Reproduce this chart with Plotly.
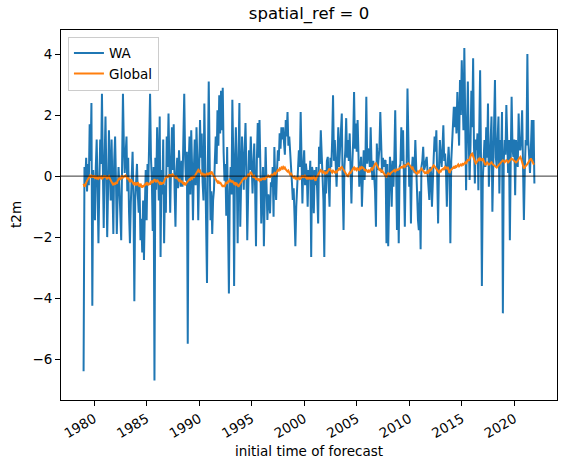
import pandas as pd
import plotly.graph_objects as go

# Monthly anomalies, Jan 1979 .. Dec 2021 (one row of 12 per year)
wa_values = [
    -6.4, 0.3, -0.2, 0.6, -0.5, 0.4, -0.3, 1.7, 0.5, 2.4, -4.25, 0.2,      # 1979
    -0.6, -1.45, 0.3, 1.2, -0.4, -2.2, -0.3, 1.2, 0.4, 2.7, 0.3, -1.7,     # 1980
    0.5, 1.95, 0.2, -2.0, -0.5, 1.5, 0.3, -0.8, 1.2, 0.1, -1.9, 0.5,       # 1981
    1.3, -0.2, -1.9, -0.6, 0.3, -0.4, -1.2, -2.1, 0.4, 2.7, 1.0, 0.1,      # 1982
    0.7, 1.3, -0.5, 0.6, -1.2, -2.2, -0.9, -0.25, 0.8, -0.6, -4.1, -0.8,   # 1983
    -0.1, 0.4, -0.6, -1.2, -0.3, -2.1, -1.4, -2.5, -0.8, -2.75, -1.0, 0.2, # 1984
    -1.45, 0.4, -0.3, 1.2, 2.7, 0.6, -0.1, -1.8, 0.3, -6.7, 0.6, -0.45,   # 1985
    1.6, 0.4, -0.8, 1.95, -2.65, 0.2, -0.6, 1.2, -2.2, -0.3, -1.2, 1.3,   # 1986
    0.3, 2.05, 0.5, -1.2, 0.4, 1.6, 0.2, 1.7, -0.5, -1.66, 0.1, 0.6,      # 1987
    -0.4, 0.85, 0.2, -0.35, 0.5, -0.35, 1.2, 2.7, 0.6, -0.15, 0.8, -5.5,  # 1988
    0.4, 1.3, -0.6, 1.5, 0.3, -1.45, 0.2, 1.2, -0.3, 1.6, 0.5, -1.45,     # 1989
    0.2, 1.84, 0.6, 1.4, -0.2, -0.8, 2.38, 0.3, -1.2, -3.5, 0.4, 3.1,     # 1990
    0.6, -1.45, -0.5, -1.9, -0.8, -0.45, 0.5, 1.3, 0.4, 2.16, 1.0, 2.65,  # 1991
    1.4, 2.8, 1.5, 2.9, 0.8, -0.15, 0.4, -1.3, 0.95, -1.3, -3.85, -0.5,   # 1992
    0.3, -0.6, 2.5, 0.7, -3.6, 0.4, 1.6, 0.2, -2.2, 0.6, 2.4, -1.66,      # 1993
    0.2, 1.3, 0.5, -0.45, 0.8, 1.74, 0.3, -2.1, -0.6, 0.85, 0.2, 1.3,     # 1994
    0.4, -0.57, 0.3, 1.07, -0.4, -2.3, 0.5, 1.74, 0.6, 1.84, 0.3, -1.55,  # 1995
    -0.5, 0.3, -2.3, 0.1, 0.95, -0.3, -1.44, -0.6, -0.78, -1.22, -0.2, -0.35,  # 1996
    0.3, -1.33, 0.95, -0.2, -0.78, 0.2, 0.85, 0.5, 1.4, 0.9, 1.6, 1.2,    # 1997
    1.6, 1.07, 0.7, 1.84, 1.3, 2.1, 1.0, 1.3, 0.6, 0.3, -0.2, -0.78,      # 1998
    -0.4, -1.33, -2.3, -1.0, -0.35, 0.2, 0.85, 0.3, 2.1, 0.6, -0.9, 0.3,  # 1999
    0.85, -0.3, 0.41, 0.1, -1.0, 0.2, -0.13, 0.5, -2.65, 0.3, 0.1, -1.22, # 2000
    0.2, -0.3, 0.3, -0.6, -1.55, 0.96, 0.4, 1.5, 0.6, 0.3, -0.8, -2.65,   # 2001
    0.2, -0.57, 0.5, 0.63, -0.4, -1.0, 0.6, 0.3, 1.2, 2.65, 0.5, 1.18,    # 2002
    0.4, -0.35, 0.5, 1.6, 0.3, 0.85, 1.2, 2.05, -0.4, -1.77, 0.3, 0.85,   # 2003
    1.9, 0.6, 1.18, 0.5, 1.4, 0.2, -0.9, 0.4, 1.18, 2.76, 0.9, 1.72,      # 2004
    0.8, 1.84, 0.6, -0.35, 0.2, 0.63, -1.0, 0.3, 0.85, -0.13, 0.6, 2.6,   # 2005
    0.41, 0.9, 0.85, 0.3, 1.6, 0.4, -0.13, 0.5, 0.1, -0.5, -1.66, 1.07,   # 2006
    0.2, 0.74, 0.9, 2.1, 0.4, 0.1, 0.6, 0.3, 0.5, 0.52, -2.2, 0.4,        # 2007
    -2.3, 0.1, 0.63, 0.2, -1.0, 0.5, -0.35, 0.6, 2.16, 0.3, -1.77, 0.2,   # 2008
    -2.2, 0.3, 0.4, 1.6, 0.5, 1.5, 0.2, -1.66, 0.4, 0.3, 2.87, 0.5,       # 2009
    -0.35, 0.3, -1.55, 0.2, 0.63, 0.3, 0.1, 1.18, 0.2, -0.9, -1.44, -1.77,  # 2010
    -0.5, -2.4, 0.3, 0.5, 0.96, 0.2, 0.3, 0.5, 0.63, 0.1, -0.3, -0.78,    # 2011
    0.3, 0.1, -1.0, 0.3, 0.6, 1.3, 0.8, 1.5, 0.4, -1.55, 0.3, 1.18,       # 2012
    0.6, 0.3, 0.9, 1.67, 0.5, 0.74, 0.2, -1.0, 0.4, 0.96, 0.3, -2.2,      # 2013
    0.5, 1.18, 1.5, 2.27, 1.6, 2.27, 1.4, 2.76, 1.84, 1.0, 3.15, 2.0,     # 2014
    3.8, 2.8, 1.5, 4.2, 1.7, -0.46, 1.5, 3.1, 1.2, -0.13, 1.0, 2.8,       # 2015
    1.6, 3.86, 1.0, -0.24, 1.2, 0.85, 1.4, -0.46, 1.5, 3.47, 0.5, -3.6,   # 2016
    -0.13, 0.8, 1.18, 0.3, 1.6, 0.6, 2.38, -0.35, 0.6, 0.85, 1.95, -1.17, # 2017
    0.4, 0.85, 3.15, 0.6, 0.3, 1.2, 1.95, -0.57, 1.18, 0.5, 2.1, -4.5,    # 2018
    0.5, 1.18, 0.7, 2.33, 0.6, 0.1, 1.18, -2.1, 0.6, 2.6, 0.9, 0.63,      # 2019
    1.2, -0.63, 1.18, 0.5, 0.3, 2.05, 0.9, 0.85, 1.3, 2.16, 0.7, -1.44,   # 2020
    0.2, 1.18, 1.0, 4.0, 1.2, 0.74, 0.1, 0.9, 1.84, 0.5, 1.84, -0.24,     # 2021
]

global_values = [
    -0.25, -0.35, -0.3, -0.2, -0.15, -0.1, -0.05, 0.0, -0.05, 0.02, 0.0, -0.05,   # 1979
    0.02, -0.05, -0.02, -0.1, -0.05, -0.08, 0.0, -0.05, -0.02, -0.1, -0.05, 0.0,  # 1980
    -0.02, 0.02, -0.05, -0.1, -0.03, 0.0, -0.08, -0.15, -0.2, -0.25, -0.3, -0.22, # 1981
    -0.28, -0.2, -0.25, -0.15, -0.1, -0.05, -0.12, 0.0, 0.02, -0.05, -0.02, 0.0,  # 1982
    0.02, -0.03, -0.1, -0.05, -0.15, -0.2, -0.1, -0.15, -0.2, -0.25, -0.2, -0.3,  # 1983
    -0.25, -0.3, -0.2, -0.28, -0.35, -0.25, -0.3, -0.38, -0.3, -0.35, -0.25, -0.3,  # 1984
    -0.2, -0.25, -0.3, -0.22, -0.28, -0.2, -0.15, -0.22, -0.18, -0.1, -0.15, -0.2,  # 1985
    -0.12, -0.15, -0.2, -0.25, -0.22, -0.28, -0.2, -0.25, -0.15, -0.1, -0.05, 0.0,  # 1986
    -0.05, 0.02, 0.05, 0.0, 0.03, -0.02, 0.05, 0.02, 0.0, -0.05, -0.02, -0.08,    # 1987
    -0.1, -0.15, -0.12, -0.2, -0.15, -0.22, -0.25, -0.2, -0.3, -0.25, -0.22, -0.18,  # 1988
    -0.15, -0.1, -0.12, -0.05, -0.08, 0.0, -0.05, 0.02, 0.05, 0.1, 0.15, 0.2,     # 1989
    0.15, 0.18, 0.1, 0.05, 0.08, 0.02, 0.05, 0.0, 0.05, 0.1, 0.03, 0.08,          # 1990
    0.12, 0.05, 0.15, 0.1, 0.05, 0.0, -0.05, -0.12, -0.15, -0.2, -0.15, -0.25,    # 1991
    -0.2, -0.28, -0.3, -0.35, -0.3, -0.35, -0.28, -0.2, -0.25, -0.15, -0.2, -0.12,  # 1992
    -0.15, -0.2, -0.15, -0.22, -0.25, -0.2, -0.28, -0.25, -0.3, -0.35, -0.28, -0.25,  # 1993
    -0.2, -0.15, -0.1, -0.08, -0.05, -0.1, -0.05, 0.0, 0.05, 0.02, 0.1, 0.14,     # 1994
    0.08, 0.02, -0.05, 0.0, -0.05, -0.1, -0.08, -0.12, -0.1, -0.15, -0.1, -0.12,  # 1995
    -0.08, -0.1, -0.05, -0.12, -0.08, 0.0, -0.05, 0.02, 0.0, -0.05, 0.02, 0.05,   # 1996
    0.02, 0.08, 0.1, 0.05, 0.12, 0.15, 0.2, 0.18, 0.25, 0.22, 0.28, 0.25,         # 1997
    0.3, 0.25, 0.28, 0.22, 0.2, 0.15, 0.18, 0.1, 0.05, 0.08, 0.0, -0.02,          # 1998
    -0.05, -0.02, -0.08, -0.05, -0.1, -0.08, -0.05, -0.1, -0.08, -0.02, 0.02, -0.05,  # 1999
    0.0, 0.03, -0.05, -0.08, -0.02, -0.1, -0.05, -0.08, -0.05, -0.1, -0.05, 0.0,  # 2000
    -0.1, -0.15, -0.05, 0.0, 0.05, 0.1, 0.15, 0.2, 0.18, 0.12, 0.15, 0.1,         # 2001
    0.08, 0.12, 0.1, 0.15, 0.2, 0.25, 0.2, 0.15, 0.12, 0.18, 0.15, 0.12,          # 2002
    0.15, 0.1, 0.18, 0.2, 0.25, 0.22, 0.28, 0.3, 0.25, 0.2, 0.15, 0.1,            # 2003
    0.05, 0.02, 0.0, 0.08, 0.12, 0.1, 0.18, 0.2, 0.25, 0.28, 0.22, 0.25,          # 2004
    0.2, 0.25, 0.22, 0.2, 0.28, 0.25, 0.3, 0.28, 0.25, 0.2, 0.18, 0.2,            # 2005
    0.15, 0.12, 0.18, 0.15, 0.2, 0.25, 0.22, 0.3, 0.35, 0.4, 0.42, 0.35,          # 2006
    0.3, 0.25, 0.2, 0.22, 0.15, 0.18, 0.12, 0.1, 0.05, 0.0, -0.02, 0.05,          # 2007
    0.1, 0.08, 0.05, 0.1, 0.12, 0.15, 0.18, 0.2, 0.15, 0.18, 0.22, 0.2,           # 2008
    0.22, 0.25, 0.28, 0.3, 0.28, 0.32, 0.35, 0.3, 0.35, 0.38, 0.4, 0.42,          # 2009
    0.38, 0.35, 0.3, 0.25, 0.28, 0.2, 0.15, 0.12, 0.1, 0.08, 0.15, 0.12,          # 2010
    0.18, 0.2, 0.25, 0.22, 0.18, 0.15, 0.1, 0.12, 0.08, 0.15, 0.12, 0.2,          # 2011
    0.18, 0.22, 0.25, 0.3, 0.35, 0.32, 0.28, 0.25, 0.2, 0.15, 0.12, 0.18,         # 2012
    0.15, 0.2, 0.22, 0.25, 0.2, 0.3, 0.28, 0.25, 0.3, 0.22, 0.1, 0.18,            # 2013
    0.22, 0.25, 0.28, 0.3, 0.25, 0.32, 0.3, 0.35, 0.38, 0.32, 0.35, 0.38,         # 2014
    0.35, 0.4, 0.38, 0.42, 0.45, 0.4, 0.48, 0.55, 0.5, 0.6, 0.65, 0.72,           # 2015
    0.74, 0.65, 0.55, 0.48, 0.42, 0.45, 0.5, 0.55, 0.5, 0.58, 0.55, 0.5,          # 2016
    0.58, 0.5, 0.42, 0.36, 0.4, 0.45, 0.42, 0.38, 0.4, 0.42, 0.45, 0.4,           # 2017
    0.38, 0.35, 0.32, 0.3, 0.28, 0.32, 0.35, 0.4, 0.42, 0.45, 0.5, 0.52,          # 2018
    0.5, 0.45, 0.48, 0.52, 0.5, 0.45, 0.48, 0.52, 0.55, 0.58, 0.55, 0.52,         # 2019
    0.5, 0.48, 0.45, 0.47, 0.5, 0.55, 0.6, 0.63, 0.55, 0.45, 0.35, 0.25,          # 2020
    0.3, 0.32, 0.36, 0.4, 0.45, 0.5, 0.55, 0.58, 0.52, 0.45, 0.4, 0.39,           # 2021
]

dates = pd.date_range("1979-01-01", periods=len(wa_values), freq="MS")
n = min(len(wa_values), len(global_values))

y_ticks = [-6, -4, -2, 0, 2, 4]

fig = go.Figure()
fig.add_trace(go.Scatter(x=dates[:len(wa_values)], y=wa_values, mode="lines", name="WA",
                         line=dict(color="#1f77b4", width=2)))
fig.add_trace(go.Scatter(x=dates[:len(global_values)], y=global_values, mode="lines", name="Global",
                         line=dict(color="#ff7f0e", width=2)))

fig.add_shape(type="line", xref="paper", yref="y", x0=0, x1=1, y0=0, y1=0,
              line=dict(color="black", width=0.8), layer="above")

font = "DejaVu Sans, sans-serif"
fig.update_layout(
    width=565, height=469,
    margin=dict(l=61, r=8, t=30, b=69),
    plot_bgcolor="white", paper_bgcolor="white",
    font=dict(family=font, size=13.5, color="black"),
    showlegend=True,
    legend=dict(x=0.014, y=0.982, xanchor="left", yanchor="top",
                bgcolor="rgba(255,255,255,0.8)", bordercolor="#cccccc", borderwidth=1,
                font=dict(size=13.5), itemwidth=30, tracegroupgap=0),
    title=dict(text="spatial_ref = 0", x=0.5, xref="paper", xanchor="center",
               y=1 - 13 / 469, yref="container", yanchor="middle",
               font=dict(size=16.5)),
    annotations=[
        dict(text="initial time of forecast", xref="paper", yref="paper",
             x=0.5, y=-(451 - 400) / 370, xanchor="center", yanchor="middle",
             showarrow=False, font=dict(size=13.5)),
        dict(text="t2m", xref="paper", yref="paper", x=(16 - 61) / 496, y=0.5,
             xanchor="center", yanchor="middle", textangle=-90,
             showarrow=False, font=dict(size=13.5)),
    ],
)
fig.update_xaxes(
    type="date", range=["1976-11-07", "2024-01-26"],
    tick0="1980-01-01", dtick="M60", tickformat="%Y", tickangle=-30,
    ticks="outside", ticklen=5, tickwidth=1, tickcolor="black",
    showline=True, linecolor="black", linewidth=1, mirror=True,
    showgrid=False, zeroline=False,
)
fig.update_yaxes(
    range=[-7.34, 4.79], tickvals=y_ticks, ticktext=[("\u2212" + str(-v)) if v < 0 else str(v) for v in y_ticks],
    ticks="outside", ticklen=5, tickwidth=1, tickcolor="black",
    showline=True, linecolor="black", linewidth=1, mirror=True,
    showgrid=False, zeroline=False,
)

print(len(wa_values), len(global_values))
fig.write_html("out.html")
